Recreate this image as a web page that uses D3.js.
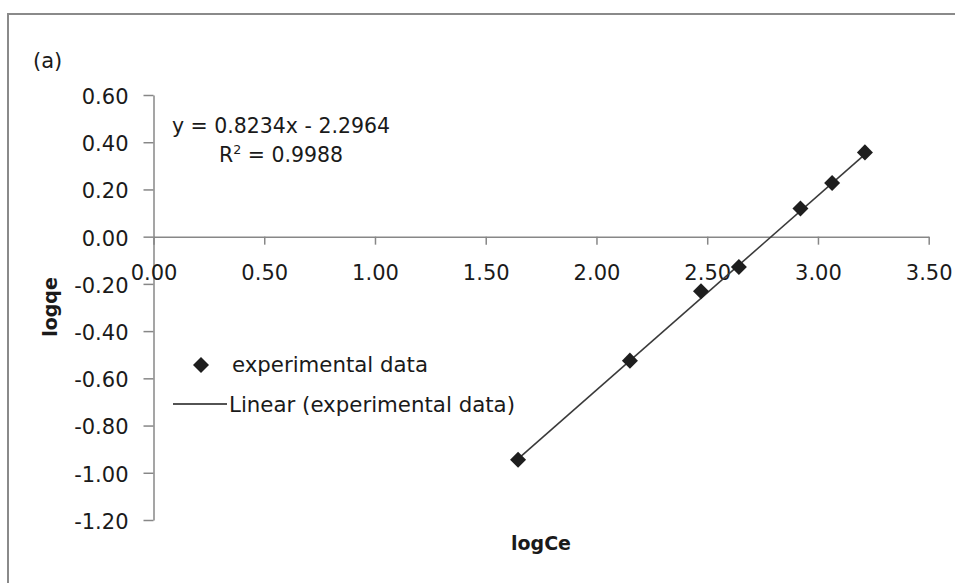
<!DOCTYPE html>
<html>
<head>
<meta charset="utf-8">
<script src="https://cdn.jsdelivr.net/npm/d3@7"></script>
<style>
  html, body { margin: 0; padding: 0; background: #fff; }
  svg { display: block; }
  text { font-family: "DejaVu Sans", sans-serif; fill: #1a1a1a; }
</style>
</head>
<body>
<svg id="chart" width="955" height="583"></svg>
<script>
// ---- data ----
const logCe = [1.646, 2.151, 2.472, 2.643, 2.921, 3.064, 3.212];
const logqe = [-0.945, -0.525, -0.231, -0.128, 0.119, 0.227, 0.357];
const slope = 0.8234;
const intercept = -2.2964;
const equationLabel = "y = 0.8234x - 2.2964";
const r2Value = "0.9988";
const xTicks = [0, 0.5, 1.0, 1.5, 2.0, 2.5, 3.0, 3.5];
const yTicks = [0.6, 0.4, 0.2, 0.0, -0.2, -0.4, -0.6, -0.8, -1.0, -1.2];
const seriesName = "experimental data";
const trendName = "Linear (experimental data)";
const panelLabel = "(a)";
const xTitle = "logCe";
const yTitle = "logqe";

const svg = d3.select("#chart");
const fmt = d3.formatLocale({decimal: ".", thousands: ",", grouping: [3], currency: ["", ""], minus: "-"}).format(".2f");

// frame
svg.append("rect").attr("x", 8).attr("y", 14).attr("width", 1000).attr("height", 1000)
  .attr("fill", "none").attr("stroke", "#8a8a8a").attr("stroke-width", 2);

const x = d3.scaleLinear().domain([0, 3.5]).range([153.5, 928.7]);
const y = d3.scaleLinear().domain([-1.2, 0.6]).range([520, 95]);

const axisColor = "#878787";

// y axis
const gy = svg.append("g").attr("transform", `translate(${x(0)},0)`)
  .call(d3.axisLeft(y).tickValues(yTicks).tickFormat(fmt).tickSize(10).tickSizeOuter(0).tickPadding(15));
gy.select(".domain").attr("stroke", axisColor).attr("stroke-width", 1.5);
gy.selectAll(".tick line").attr("stroke", axisColor).attr("stroke-width", 1.5);
gy.selectAll(".tick text").attr("font-size", 21).attr("font-family", "DejaVu Sans")
  .attr("fill", "#1a1a1a").attr("dy", "0.4em");

// x axis
const gx = svg.append("g").attr("transform", `translate(0,${y(0)})`)
  .call(d3.axisBottom(x).tickValues(xTicks).tickFormat(fmt).tickSize(8).tickSizeOuter(0));
gx.select(".domain").attr("stroke", axisColor).attr("stroke-width", 1.5);
gx.selectAll(".tick line").attr("stroke", axisColor).attr("stroke-width", 1.5);
gx.selectAll(".tick text").attr("font-size", 21).attr("font-family", "DejaVu Sans")
  .attr("fill", "#1a1a1a").attr("y", 43).attr("dy", 0);

// trend line
const xMin = d3.min(logCe), xMax = d3.max(logCe);
svg.append("line")
  .attr("x1", x(xMin)).attr("y1", y(slope * xMin + intercept))
  .attr("x2", x(xMax)).attr("y2", y(slope * xMax + intercept))
  .attr("stroke", "#3a3a3a").attr("stroke-width", 1.6);

// markers
const diamond = d3.symbol().type(d3.symbolSquare).size(128);
svg.selectAll("path.pt").data(logCe).enter().append("path").attr("class", "pt")
  .attr("d", diamond)
  .attr("transform", (d, i) => `translate(${x(d)},${y(logqe[i])}) rotate(45)`)
  .attr("fill", "#1e1e1e");

// panel label
svg.append("text").attr("x", 33).attr("y", 68).attr("font-size", 21).text(panelLabel);

// equation
svg.append("text").attr("x", 172).attr("y", 133).attr("font-size", 21)
  .attr("textLength", 218).attr("lengthAdjust", "spacingAndGlyphs").text(equationLabel);
const r2 = svg.append("text").attr("x", 219).attr("y", 162).attr("font-size", 21)
  .attr("textLength", 124).attr("lengthAdjust", "spacingAndGlyphs");
r2.append("tspan").text("R");
r2.append("tspan").attr("font-size", 13).attr("dy", -8).text("2");
r2.append("tspan").attr("dy", 8).text(" = " + r2Value);

// legend
svg.append("path").attr("d", diamond).attr("transform", "translate(201,365) rotate(45)").attr("fill", "#1e1e1e");
svg.append("text").attr("x", 232).attr("y", 372).attr("font-size", 21)
  .attr("textLength", 196).attr("lengthAdjust", "spacingAndGlyphs").text(seriesName);
svg.append("line").attr("x1", 173).attr("x2", 227).attr("y1", 404).attr("y2", 404)
  .attr("stroke", "#1a1a1a").attr("stroke-width", 1.5);
svg.append("text").attr("x", 229).attr("y", 412).attr("font-size", 21)
  .attr("textLength", 286).attr("lengthAdjust", "spacingAndGlyphs").text(trendName);

// axis titles
svg.append("text").attr("x", 541).attr("y", 550).attr("text-anchor", "middle")
  .attr("font-size", 19).attr("font-weight", "bold").text(xTitle);
svg.append("text").attr("transform", "translate(57,307) rotate(-90)").attr("text-anchor", "middle")
  .attr("font-size", 19).attr("font-weight", "bold").text(yTitle);
</script>
</body>
</html>
